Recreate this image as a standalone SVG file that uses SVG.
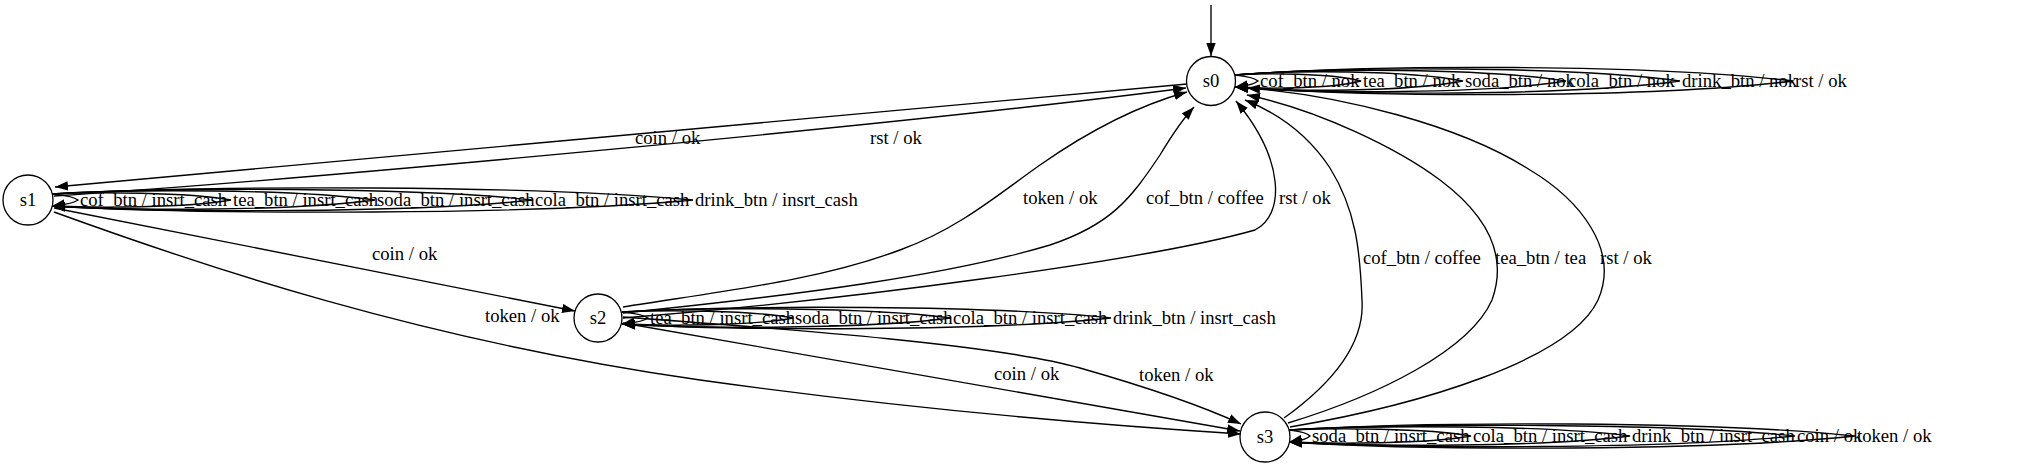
<svg xmlns="http://www.w3.org/2000/svg" width="2041" height="466" viewBox="0 0 2041 466">
<style>
.n circle{fill:#fff;stroke:#000;stroke-width:1.3}
text{font-family:"Liberation Serif","Times New Roman",serif;font-size:18.67px;fill:#000}
.c{text-anchor:middle}
.e path{fill:none;stroke:#000;stroke-width:1.35;marker-end:url(#ah)}
</style>
<defs>
<marker id="ah" viewBox="0 0 14 10" refX="13" refY="5" markerWidth="14" markerHeight="10" markerUnits="userSpaceOnUse" orient="auto"><path d="M0,0.3 L13,5 L0,9.7 z" fill="#000"/></marker>
</defs>
<rect width="2041" height="466" fill="#fff"/>
<g id="connectors" class="e">
<path d="M1211,5 L1211,56"/>
<path d="M1187,84 L55,187"/>
<path d="M54,196 C300,180 900,125 1186,88"/>
<path d="M54,208 L575,311"/>
<path d="M54,212 C200,265 420,340 700,380 C900,408 1100,425 1241,434"/>
<path d="M623,307 C730,290 820,280 900,250 C960,228 1000,193 1040,165 C1090,130 1140,105 1187,92"/>
<path d="M623,313 C800,295 950,275 1050,245 C1110,225 1130,200 1160,155 C1172,135 1182,120 1194,107"/>
<path d="M623,318 C850,300 1150,260 1255,230 C1285,215 1285,160 1236,101"/>
<path d="M623,323 L1240,431"/>
<path d="M623,317 C800,330 1000,345 1080,368 C1150,388 1200,405 1241,424"/>
<path d="M1284,418 C1330,385 1365,345 1362,300 C1360,250 1356,210 1330,168 C1305,130 1270,110 1245,100"/>
<path d="M1288,423 C1380,395 1470,350 1492,300 C1510,250 1480,210 1440,180 C1400,150 1320,110 1247,95"/>
<path d="M1290,427 C1420,405 1570,360 1598,300 C1620,250 1580,200 1530,170 C1460,125 1340,95 1247,88"/>
<path d="M1235,75 C1241,76 1252,76 1258,81 C1252,86 1241,86 1235,87"/>
<path d="M1235,75 C1266,73 1330,73 1361,81 C1330,89 1266,89 1235,87"/>
<path d="M1235,75 C1292,70 1406,70 1463,81 C1406,92 1292,92 1235,87"/>
<path d="M1235,75 C1318,68 1483,68 1566,81 C1483,94 1318,94 1235,87"/>
<path d="M1235,75 C1346,66 1569,66 1680,81 C1569,96 1346,96 1235,87"/>
<path d="M1235,75 C1375,64 1653,64 1793,81 C1653,98 1375,98 1235,87"/>
<path d="M52,194 C58,195 71,195 78,200 C71,205 58,205 52,206"/>
<path d="M52,194 C97,192 186,192 231,200 C186,208 97,208 52,206"/>
<path d="M52,194 C133,189 294,189 375,200 C294,211 133,211 52,206"/>
<path d="M52,194 C172,187 413,187 533,200 C413,213 172,213 52,206"/>
<path d="M52,194 C212,185 533,185 693,200 C533,215 212,215 52,206"/>
<path d="M622,312 C628,313 641,313 648,318 C641,323 628,323 622,324"/>
<path d="M622,312 C665,310 750,310 793,318 C750,326 665,326 622,324"/>
<path d="M622,312 C704,307 869,307 951,318 C869,329 704,329 622,324"/>
<path d="M622,312 C744,305 989,305 1111,318 C989,331 744,331 622,324"/>
<path d="M1289,430 C1294,431 1305,431 1310,436 C1305,441 1294,441 1289,442"/>
<path d="M1289,430 C1334,428 1426,428 1471,436 C1426,444 1334,444 1289,442"/>
<path d="M1289,430 C1374,425 1545,425 1630,436 C1545,447 1374,447 1289,442"/>
<path d="M1289,430 C1415,423 1669,423 1795,436 C1669,449 1415,449 1289,442"/>
<path d="M1289,430 C1430,421 1714,421 1855,436 C1714,451 1430,451 1289,442"/>
</g>
<g id="edge-labels">
<text x="635" y="144">coin / ok</text>
<text x="870" y="144">rst / ok</text>
<text x="372" y="260">coin / ok</text>
<text x="485" y="322">token / ok</text>
<text x="1023" y="204">token / ok</text>
<text x="1146" y="204">cof_btn / coffee</text>
<text x="1279" y="204">rst / ok</text>
<text x="994" y="380">coin / ok</text>
<text x="1139" y="381">token / ok</text>
<text x="1363" y="264">cof_btn / coffee</text>
<text x="1495" y="264">tea_btn / tea</text>
<text x="1600" y="264">rst / ok</text>
<text x="1260" y="87">cof_btn / nok</text>
<text x="1363" y="87">tea_btn / nok</text>
<text x="1465" y="87">soda_btn / nok</text>
<text x="1568" y="87">cola_btn / nok</text>
<text x="1682" y="87">drink_btn / nok</text>
<text x="1795" y="87">rst / ok</text>
<text x="80" y="206">cof_btn / insrt_cash</text>
<text x="233" y="206">tea_btn / insrt_cash</text>
<text x="377" y="206">soda_btn / insrt_cash</text>
<text x="535" y="206">cola_btn / insrt_cash</text>
<text x="695" y="206">drink_btn / insrt_cash</text>
<text x="650" y="324">tea_btn / insrt_cash</text>
<text x="795" y="324">soda_btn / insrt_cash</text>
<text x="953" y="324">cola_btn / insrt_cash</text>
<text x="1113" y="324">drink_btn / insrt_cash</text>
<text x="1312" y="442">soda_btn / insrt_cash</text>
<text x="1473" y="442">cola_btn / insrt_cash</text>
<text x="1632" y="442">drink_btn / insrt_cash</text>
<text x="1797" y="442">coin / ok</text>
<text x="1857" y="442">token / ok</text>
</g>
<g id="s0" class="n"><circle cx="1211" cy="81" r="24.5"/><text class="c" x="1211" y="87">s0</text></g>
<g id="s1" class="n"><circle cx="28" cy="200" r="25"/><text class="c" x="28" y="206">s1</text></g>
<g id="s2" class="n"><circle cx="598" cy="318" r="24"/><text class="c" x="598" y="324">s2</text></g>
<g id="s3" class="n"><circle cx="1265" cy="437" r="25"/><text class="c" x="1265" y="443">s3</text></g>
</svg>
